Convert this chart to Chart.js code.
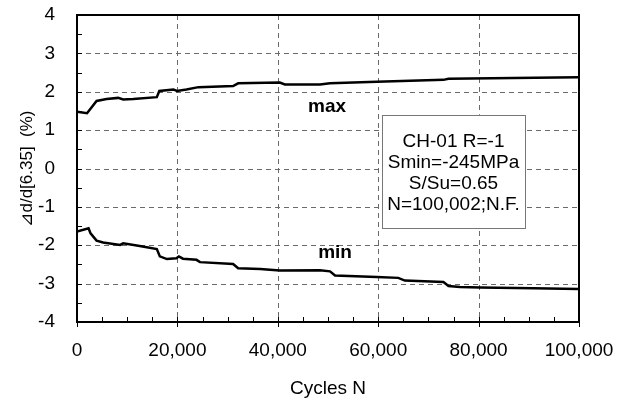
<!DOCTYPE html>
<html>
<head>
<meta charset="utf-8">
<script src="https://cdn.jsdelivr.net/npm/chart.js@4"></script>
<style>
  html, body { margin: 0; padding: 0; background: #fff; }
  #wrap { width: 626px; height: 402px; }
</style>
</head>
<body>
<div id="wrap"><canvas id="fatigueChart" width="626" height="402"></canvas></div>
<script>
// cycles / strain change
const maxCycles = [0, 2000, 3900, 5900, 8200, 9200, 11200, 15900, 16400, 19200, 19900, 21800, 24200, 31100, 32100, 40400, 41400, 48400, 50400, 59700, 73000, 74000, 99900];
const maxValues = [1.48, 1.44, 1.76, 1.81, 1.84, 1.80, 1.81, 1.86, 2.02, 2.06, 2.02, 2.06, 2.12, 2.15, 2.22, 2.24, 2.19, 2.19, 2.22, 2.26, 2.31, 2.34, 2.38];
const minCycles = [0, 2300, 2700, 3900, 5200, 8600, 9200, 12500, 15900, 16500, 17900, 19800, 20300, 21100, 23800, 24500, 31100, 32100, 36500, 40400, 48400, 50400, 51400, 59700, 64000, 65300, 73000, 74000, 76300, 80300, 90900, 99900];
const minValues = [-1.64, -1.56, -1.69, -1.88, -1.93, -1.99, -1.95, -2.02, -2.10, -2.29, -2.36, -2.34, -2.29, -2.35, -2.38, -2.44, -2.49, -2.60, -2.62, -2.66, -2.65, -2.68, -2.79, -2.83, -2.85, -2.92, -2.96, -3.06, -3.09, -3.10, -3.12, -3.14];

const infoLines = ['CH-01 R=-1', 'Smin=-245MPa', 'S/Su=0.65', 'N=100,002;N.F.'];

const toPoints = (xs, ys) => xs.map((x, i) => ({x: x, y: ys[i]}));
const FONT = '"Liberation Sans", Arial, sans-serif';

// dashed grid under the lines
const gridPlugin = {
    id: 'dashGrid',
    beforeDatasetsDraw(chart) {
        const {ctx, chartArea: a, scales: {x, y}} = chart;
        ctx.save();
        ctx.strokeStyle = '#6a6a6a';
        ctx.lineWidth = 1;
        ctx.setLineDash([5, 4]);
        ctx.beginPath();
        x.ticks.forEach(t => {
            const px = Math.round(x.getPixelForValue(t.value)) + 0.5;
            ctx.moveTo(px, a.top);
            ctx.lineTo(px, a.bottom);
        });
        y.ticks.forEach(t => {
            const py = Math.round(y.getPixelForValue(t.value)) + 0.5;
            ctx.moveTo(a.left, py);
            ctx.lineTo(a.right, py);
        });
        ctx.stroke();
        ctx.restore();
    }
};

const decorPlugin = {
    id: 'decor',
    afterDraw(chart) {
        const {ctx, chartArea: a, scales: {x, y}} = chart;
        ctx.save();
        // minor ticks
        ctx.strokeStyle = '#000';
        ctx.lineWidth = 1;
        ctx.beginPath();
        for (let v = 0; v <= 100000; v += 5000) {
            const px = Math.round(x.getPixelForValue(v)) + 0.5;
            ctx.moveTo(px, a.bottom);
            ctx.lineTo(px, a.bottom - 5);
            if (v % 20000 === 0) {
                ctx.moveTo(px, a.bottom);
                ctx.lineTo(px, a.bottom + 5);
            }
        }
        for (let v = -4; v <= 4; v += 0.5) {
            const py = Math.round(y.getPixelForValue(v)) + 0.5;
            ctx.moveTo(a.left, py);
            ctx.lineTo(a.left + 5, py);
        }
        ctx.stroke();

        // frame
        ctx.lineWidth = 2;
        ctx.strokeRect(a.left, a.top, a.right - a.left, a.bottom - a.top);

        // max / min labels
        ctx.fillStyle = '#000';
        ctx.font = 'bold 19px ' + FONT;
        ctx.textAlign = 'center';
        ctx.textBaseline = 'middle';
        ctx.fillText('max', x.getPixelForValue(49800), y.getPixelForValue(1.6));
        ctx.fillText('min', x.getPixelForValue(51400), y.getPixelForValue(-2.2));

        // info box
        const bx1 = x.getPixelForValue(60760), bx2 = x.getPixelForValue(89240);
        const by1 = y.getPixelForValue(1.40), by2 = y.getPixelForValue(-1.55);
        ctx.fillStyle = '#fff';
        ctx.fillRect(bx1, by1, bx2 - bx1, by2 - by1);
        ctx.strokeStyle = '#777';
        ctx.lineWidth = 1;
        ctx.strokeRect(Math.round(bx1) + 0.5, Math.round(by1) + 0.5, Math.round(bx2 - bx1), Math.round(by2 - by1));
        ctx.fillStyle = '#000';
        ctx.font = '19px ' + FONT;
        const cx = (bx1 + bx2) / 2;
        infoLines.forEach((t, i) => {
            ctx.fillText(t, cx, by1 + 27 + i * 21);
        });
        ctx.restore();
    }
};

const ctx = document.getElementById('fatigueChart').getContext('2d');
const fatigueChart = new Chart(ctx, {
    type: 'line',
    data: {
        datasets: [
            {
                label: 'max',
                data: toPoints(maxCycles, maxValues),
                borderColor: '#000',
                borderWidth: 2.5,
                pointRadius: 0,
                tension: 0
            },
            {
                label: 'min',
                data: toPoints(minCycles, minValues),
                borderColor: '#000',
                borderWidth: 2.5,
                pointRadius: 0,
                tension: 0
            }
        ]
    },
    options: {
        responsive: false,
        animation: false,
        layout: {padding: {left: 13, right: 47, top: 15, bottom: 0}},
        plugins: {
            legend: {display: false},
            tooltip: {enabled: false}
        },
        scales: {
            x: {
                type: 'linear',
                min: 0,
                max: 100000,
                ticks: {
                    stepSize: 20000,
                    color: '#000',
                    font: {size: 19, family: FONT},
                    padding: 9,
                    maxRotation: 0,
                    callback: v => v.toLocaleString('en-US')
                },
                grid: {display: false},
                border: {display: false},
                title: {
                    display: true,
                    text: 'Cycles N',
                    color: '#000',
                    font: {size: 19, family: FONT},
                    padding: {top: 4, bottom: 2}
                },
                afterFit: s => { s.height = 80; }
            },
            y: {
                min: -4,
                max: 4,
                ticks: {
                    stepSize: 1,
                    color: '#000',
                    font: {size: 19, family: FONT},
                    padding: 14
                },
                grid: {display: false},
                border: {display: false},
                title: {
                    display: true,
                    text: '⊿d/d[6.35]  (%)',
                    color: '#000',
                    font: {size: 17, family: FONT},
                    padding: {bottom: 10}
                },
                afterFit: s => {
                    s.width = 64;
                    s.paddingTop = 0;
                    s.paddingBottom = 0;
                }
            }
        }
    },
    plugins: [gridPlugin, decorPlugin]
});
</script>
</body>
</html>
